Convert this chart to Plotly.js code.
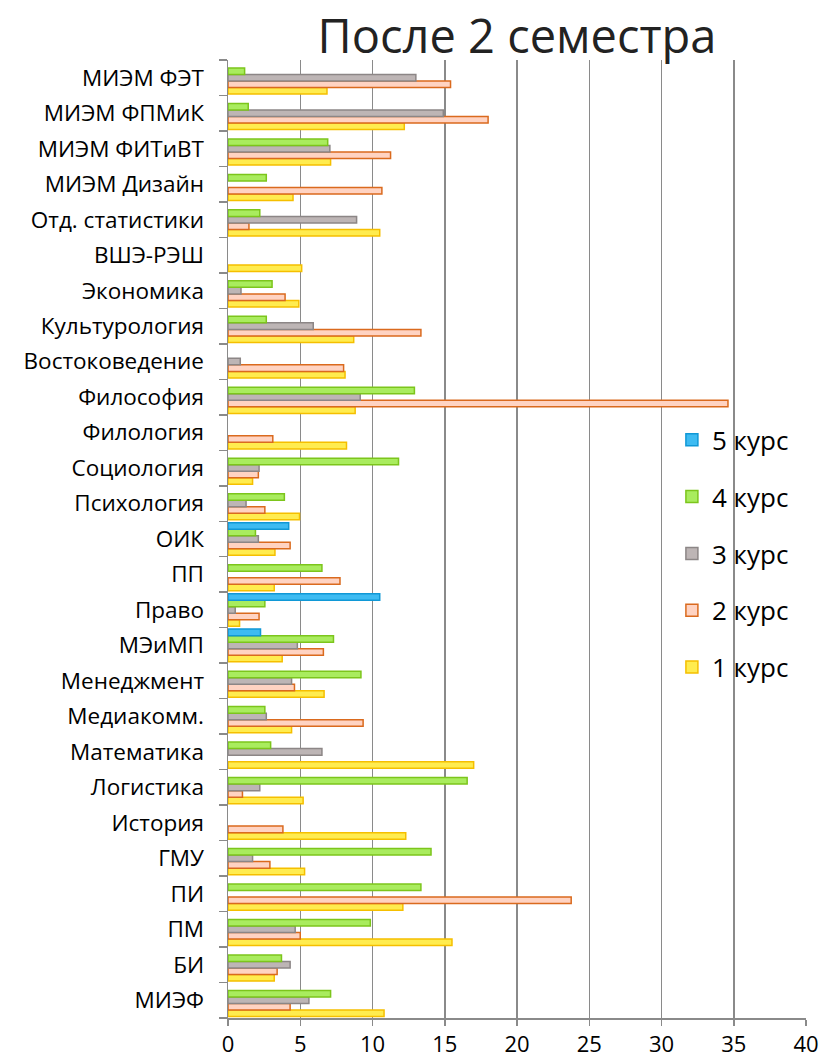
<!DOCTYPE html>
<html>
<head>
<meta charset="utf-8">
<script src="https://cdn.plot.ly/plotly-3.0.1.min.js"></script>
<style>html,body{margin:0;padding:0;background:#fff;}#chart{width:831px;height:1063px;}</style>
</head>
<body>
<div id="chart"></div>
<script>
const categories = ["МИЭФ","БИ","ПМ","ПИ","ГМУ","История","Логистика","Математика","Медиакомм.","Менеджмент","МЭиМП","Право","ПП","ОИК","Психология","Социология","Филология","Философия","Востоковедение","Культурология","Экономика","ВШЭ-РЭШ","Отд. статистики","МИЭМ Дизайн","МИЭМ ФИТиВТ","МИЭМ ФПМиК","МИЭМ ФЭТ"];
const course1 = [10.8,3.2,15.5,12.1,5.3,12.3,5.2,17.0,4.4,6.65,3.75,0.8,3.2,3.25,4.95,1.7,8.2,8.8,8.1,8.7,4.9,5.1,10.5,4.5,7.1,12.2,6.85];
const course2 = [4.3,3.4,5.0,23.75,2.9,3.8,1.0,null,9.35,4.6,6.6,2.15,7.75,4.3,2.55,2.1,3.1,34.6,8.0,13.35,3.95,null,1.45,10.65,11.25,18.0,15.4];
const course3 = [5.6,4.3,4.65,null,1.7,null,2.2,6.5,2.65,4.4,4.8,0.5,null,2.1,1.25,2.15,null,9.15,0.85,5.9,0.9,null,8.9,null,7.05,14.9,13.0];
const course4 = [7.1,3.7,9.85,13.35,14.05,null,16.55,2.95,2.55,9.2,7.3,2.55,6.5,1.9,3.9,11.8,null,12.9,null,2.65,3.05,null,2.2,2.65,6.9,1.4,1.15];
const course5 = [null,null,null,null,null,null,null,null,null,null,2.25,10.5,null,4.2,null,null,null,null,null,null,null,null,null,null,null,null,null];
const seriesNames = ["1 курс","2 курс","3 курс","4 курс","5 курс"];
const xTicks = [0,5,10,15,20,25,30,35,40];

const seriesData = [course1, course2, course3, course4, course5];
const fills = ["#FFEC4F","#FFD3C2","#BDB5B5","#A9EC5E","#3DBBF2"];
const borders = ["#F5BF00","#DA6A1E","#8C8686","#7CC51C","#1098D6"];

const traces = seriesData.map((vals, i) => ({
  type: "bar",
  orientation: "h",
  name: seriesNames[i],
  y: categories,
  x: vals,
  legendgroup: "g" + i,
  legendrank: seriesData.length - i,
  marker: {color: fills[i], line: {color: borders[i], width: 1.5}},
  hoverinfo: "x+name"
}));

const layout = {
  width: 831, height: 1063,
  margin: {l: 228, r: 25, t: 60, b: 45},
  paper_bgcolor: "#fff", plot_bgcolor: "#fff",
  font: {family: "Open Sans, Noto Sans, sans-serif", color: "#000"},
  title: {text: "После 2 семестра", font: {size: 47, color: "#222", family: "Open Sans, sans-serif"},
          x: 0.5, xref: "paper", xanchor: "center", y: 0.966, yref: "container", yanchor: "middle"},
  barmode: "group", bargap: 0.08, bargroupgap: 0,
  xaxis: {range: [0, 40], tickvals: xTicks, ticktext: xTicks.map(String),
          showgrid: true, gridcolor: "#8a8a8a", gridwidth: 1.5,
          showline: true, linecolor: "#8a8a8a", linewidth: 1.5,
          ticks: "outside", ticklen: 6, tickcolor: "#8a8a8a", tickwidth: 1.5,
          tickfont: {size: 22, color: "#000"}, zeroline: false, fixedrange: true},
  yaxis: {type: "category", categoryorder: "array", categoryarray: categories,
          showline: true, linecolor: "#8a8a8a", linewidth: 1.5,
          ticks: "outside", tickson: "boundaries", ticklen: 8, tickcolor: "#8a8a8a", tickwidth: 1.5,
          ticklabelstandoff: 18,
          tickfont: {size: 22.5, color: "#000"}, showgrid: false, fixedrange: true, automargin: false},
  legend: {x: 0.768, xanchor: "left", y: 0.628, yanchor: "top",
           traceorder: "grouped", tracegroupgap: 20,
           font: {size: 26, color: "#000"}, bgcolor: "rgba(0,0,0,0)", itemwidth: 30},
  showlegend: true
};

Plotly.newPlot("chart", traces, layout, {displayModeBar: false, staticPlot: true});
</script>
</body>
</html>
